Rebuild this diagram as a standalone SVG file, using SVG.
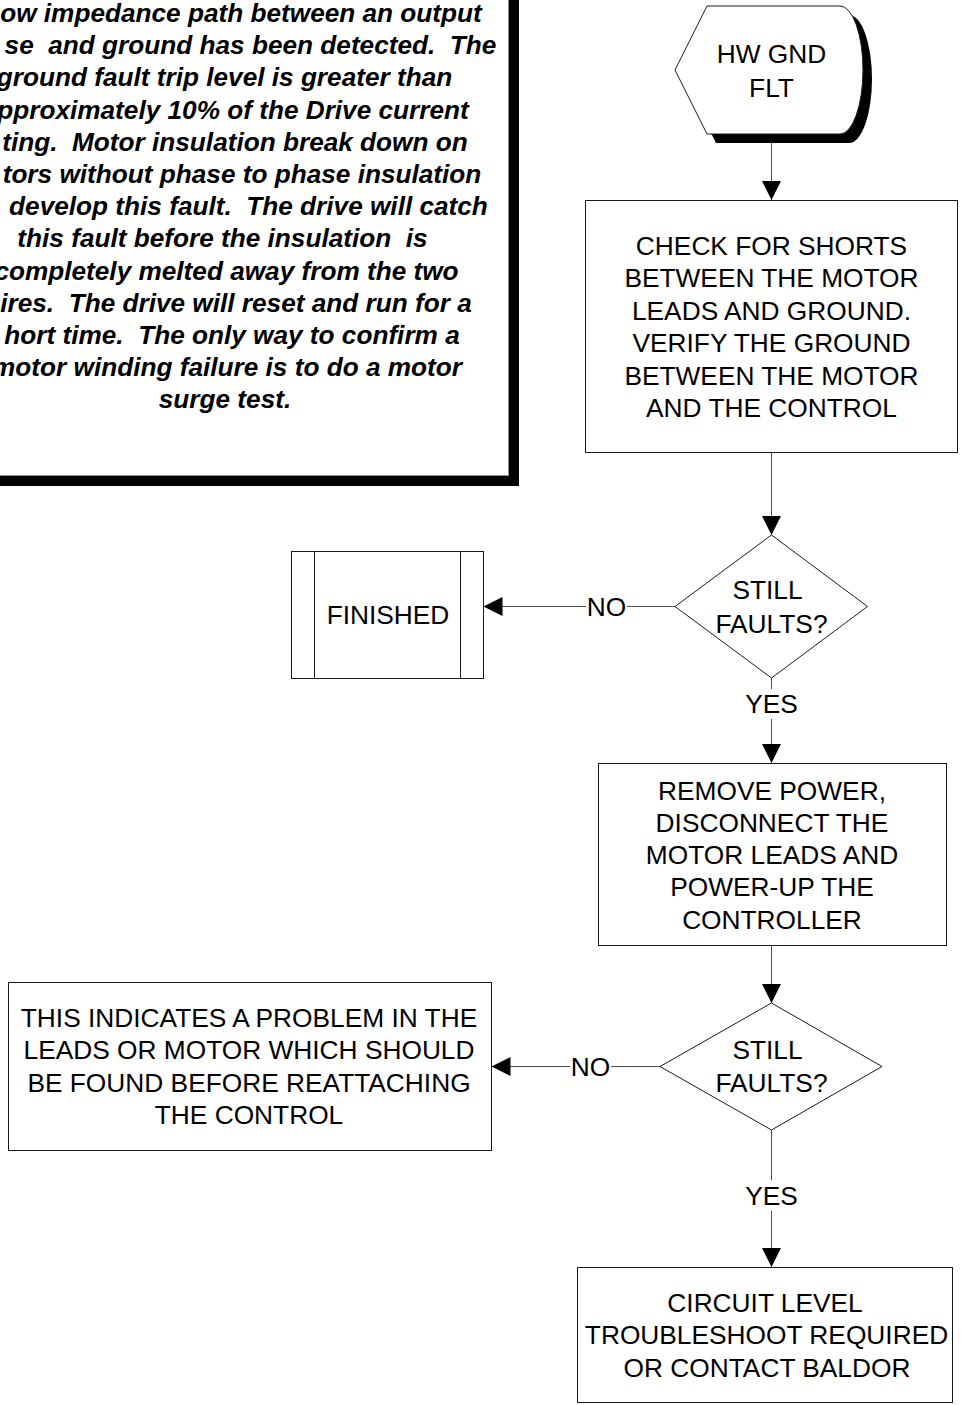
<svg xmlns="http://www.w3.org/2000/svg" width="961" height="1405" viewBox="0 0 961 1405">
  <style>
    .box { fill: #ffffff; stroke: #1a1a1a; stroke-width: 1; }
    .shadow { fill: #000000; stroke: none; }
    .conn { fill: none; stroke: #4d4d4d; stroke-width: 1; }
    .lbl { font-family: "Liberation Sans", Arial, sans-serif; font-size: 26.3px; fill: #000000; text-anchor: middle; }
    .note { font-family: "Liberation Sans", Arial, sans-serif; font-size: 26.2px; font-weight: bold; font-style: italic; fill: #000000; text-anchor: middle; white-space: pre; }
  </style>
  <defs>
    <marker id="arrow" viewBox="0 0 20 20" refX="20" refY="10" markerWidth="19" markerHeight="19" markerUnits="userSpaceOnUse" orient="auto">
      <path d="M0,0 L20,10 L0,20 Z" fill="#000000"/>
    </marker>
  </defs>

  <rect width="961" height="1405" fill="#ffffff"/>

  <!-- explanatory note with drop shadow -->
  <g id="note">
    <rect class="shadow" x="-10" y="-10" width="529" height="496"/>
    <rect x="-20" y="-20" width="528.5" height="495.5" fill="#ffffff" stroke="#8c8c8c" stroke-width="1"/>
    <text class="note" xml:space="preserve" x="241" y="22">ow impedance path between an output</text>
    <text class="note" xml:space="preserve" x="250.5" y="54.2">se  and ground has been detected.  The</text>
    <text class="note" xml:space="preserve" x="224.5" y="86.4">ground fault trip level is greater than</text>
    <text class="note" xml:space="preserve" x="233" y="118.6">pproximately 10% of the Drive current</text>
    <text class="note" xml:space="preserve" x="235" y="150.8">ting.  Motor insulation break down on</text>
    <text class="note" xml:space="preserve" x="242" y="183">tors without phase to phase insulation</text>
    <text class="note" xml:space="preserve" x="248.5" y="215.2">develop this fault.  The drive will catch</text>
    <text class="note" xml:space="preserve" x="222.5" y="247.4">this fault before the insulation  is</text>
    <text class="note" xml:space="preserve" x="226.5" y="279.6">completely melted away from the two</text>
    <text class="note" xml:space="preserve" x="236" y="311.8">ires.  The drive will reset and run for a</text>
    <text class="note" xml:space="preserve" x="232" y="344">hort time.  The only way to confirm a</text>
    <text class="note" xml:space="preserve" x="227" y="376.2">motor winding failure is to do a motor</text>
    <text class="note" xml:space="preserve" x="225" y="408.4">surge test.</text>
  </g>

  <!-- connectors -->
  <g id="connectors">
    <path class="conn" d="M771.5,134 V200" marker-end="url(#arrow)"/>
    <path class="conn" d="M771.5,452 V535" marker-end="url(#arrow)"/>
    <path class="conn" d="M675,606.5 H627"/>
    <path class="conn" d="M586,606.5 H483.5" marker-end="url(#arrow)"/>
    <path class="conn" d="M771.5,678 V689"/>
    <path class="conn" d="M771.5,719 V763" marker-end="url(#arrow)"/>
    <path class="conn" d="M771.5,945 V1003" marker-end="url(#arrow)"/>
    <path class="conn" d="M660,1066.5 H611"/>
    <path class="conn" d="M570,1066.5 H491.5" marker-end="url(#arrow)"/>
    <path class="conn" d="M771.5,1130 V1180"/>
    <path class="conn" d="M771.5,1211 V1267" marker-end="url(#arrow)"/>
    <text class="lbl" x="606.5" y="615.5">NO</text>
    <text class="lbl" x="771.5" y="713">YES</text>
    <text class="lbl" x="590.5" y="1075.5">NO</text>
    <text class="lbl" x="771.5" y="1205">YES</text>
  </g>

  <!-- start: display shape -->
  <g id="hw-gnd-flt">
    <path class="shadow" transform="translate(9,9)" d="M707,6 H840 A23,64 0 0 1 840,134 H707 L675,70 Z"/>
    <path class="box" d="M707,6 H840 A23,64 0 0 1 840,134 H707 L675,70 Z"/>
    <text class="lbl"><tspan x="771.5" y="63.3">HW GND</tspan><tspan x="771.5" y="96.7">FLT</tspan></text>
  </g>

  <g id="check-shorts">
    <rect class="box" x="585.5" y="200.5" width="372" height="252"/>
    <text class="lbl"><tspan x="771.5" y="255">CHECK FOR SHORTS</tspan><tspan x="771.5" y="287.4">BETWEEN THE MOTOR</tspan><tspan x="771.5" y="319.8">LEADS AND GROUND.</tspan><tspan x="771.5" y="352.2">VERIFY THE GROUND</tspan><tspan x="771.5" y="384.6">BETWEEN THE MOTOR</tspan><tspan x="771.5" y="417">AND THE CONTROL</tspan></text>
  </g>

  <g id="decision-1">
    <polygon class="box" points="771.5,535 867.5,606.5 771.5,678 675,606.5"/>
    <text class="lbl"><tspan x="767.5" y="599">STILL</tspan><tspan x="771.5" y="633">FAULTS?</tspan></text>
  </g>

  <g id="finished">
    <rect class="box" x="291.5" y="551.5" width="192" height="127"/>
    <path class="box" d="M314.5,551.5 V678.5 M460.5,551.5 V678.5"/>
    <text class="lbl" x="388" y="624">FINISHED</text>
  </g>

  <g id="remove-power">
    <rect class="box" x="598.5" y="763.5" width="348" height="182"/>
    <text class="lbl"><tspan x="772" y="799.5">REMOVE POWER,</tspan><tspan x="772" y="831.8">DISCONNECT THE</tspan><tspan x="772" y="864.1">MOTOR LEADS AND</tspan><tspan x="772" y="896.4">POWER-UP THE</tspan><tspan x="772" y="928.7">CONTROLLER</tspan></text>
  </g>

  <g id="decision-2">
    <polygon class="box" points="771.5,1003 882,1066.5 771.5,1130 660,1066.5"/>
    <text class="lbl"><tspan x="767.5" y="1059">STILL</tspan><tspan x="771.5" y="1092">FAULTS?</tspan></text>
  </g>

  <g id="leads-problem">
    <rect class="box" x="8.5" y="982.5" width="483" height="168"/>
    <text class="lbl"><tspan x="249" y="1027">THIS INDICATES A PROBLEM IN THE</tspan><tspan x="249" y="1059.4">LEADS OR MOTOR WHICH SHOULD</tspan><tspan x="249" y="1091.8">BE FOUND BEFORE REATTACHING</tspan><tspan x="249" y="1124.2">THE CONTROL</tspan></text>
  </g>

  <g id="circuit-level">
    <rect class="box" x="577.5" y="1267.5" width="375" height="135"/>
    <text class="lbl"><tspan x="765" y="1312">CIRCUIT LEVEL</tspan><tspan x="766.5" y="1344.3">TROUBLESHOOT REQUIRED</tspan><tspan x="767" y="1376.6">OR CONTACT BALDOR</tspan></text>
  </g>
</svg>
